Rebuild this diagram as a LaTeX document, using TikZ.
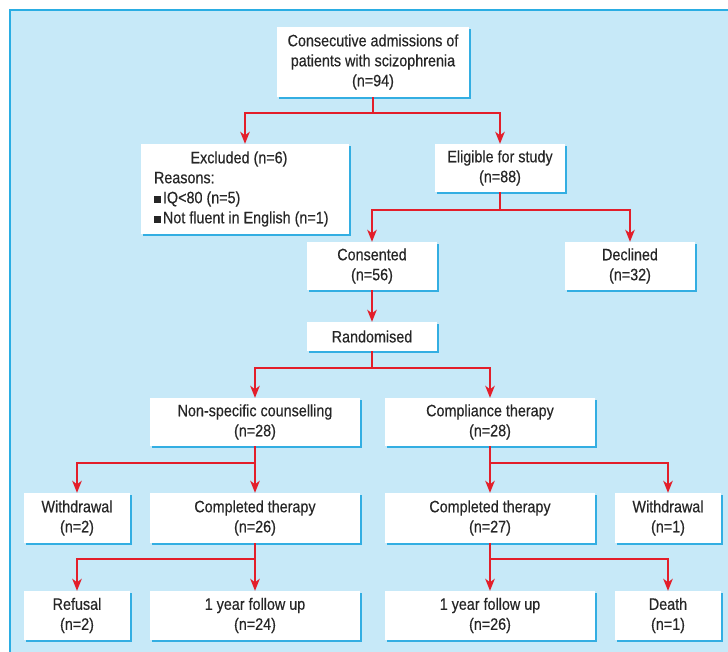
\documentclass[tikz,border=0pt]{standalone}
\usepackage{fontspec}
\setmainfont{Liberation Sans}[FakeStretch=0.87, WordSpace=1.0, FakeBold=0.35]
\usetikzlibrary{arrows.meta,shadows}
\definecolor{bgblue}{HTML}{C7E9F8}
\definecolor{edgeblue}{HTML}{2AADE3}
\definecolor{shadblue}{HTML}{33AEE2}
\definecolor{arrred}{HTML}{E31E2A}
\tikzset{
  box/.style={fill=white, inner sep=0pt, align=center, anchor=center,
    font=\fontsize{16.5}{20}\selectfont, text=black!85,
    drop shadow={shadow xshift=2pt, shadow yshift=-2pt, fill=shadblue, opacity=1}},
  link/.style={draw=arrred, line width=1.6pt},
  arr/.style={link, -{Stealth[length=12pt, width=9.5pt, inset=3.5pt]}}
}
\newcommand{\sqb}{\rule[0.5pt]{6.5pt}{6.5pt}\hspace{2.5pt}}
\begin{document}
\begin{tikzpicture}[x=1pt,y=-1pt]
\clip (0,0) rectangle (728,652);
\useasboundingbox (0,0) rectangle (728,652);
\fill[white] (0,0) rectangle (728,652);
\fill[bgblue] (10,10) rectangle (740,670);
\draw[edgeblue, line width=2pt] (10,670) -- (10,10) -- (740,10);

\node[box, minimum width=192pt, minimum height=70pt] (top) at (373,62)
  {Consecutive admissions of\\ patients with scizophrenia\\ (n=94)};
\node[box, minimum width=208pt, minimum height=90pt, text width=182pt, align=flush left] (excl) at (245,189)
  {\makebox[170pt][c]{Excluded (n=6)}\\ Reasons:\\ \sqb IQ<80 (n=5)\\ \sqb Not fluent in English (n=1)};
\node[box, minimum width=130pt, minimum height=48pt] (elig) at (500,168) {Eligible for study\\ (n=88)};
\node[box, minimum width=130pt, minimum height=48pt] (cons) at (372,266) {Consented\\ (n=56)};
\node[box, minimum width=130pt, minimum height=48pt] (decl) at (630,266) {Declined\\ (n=32)};
\node[box, minimum width=130pt, minimum height=29pt] (rand) at (372,336.5) {Randomised};
\node[box, minimum width=210pt, minimum height=48pt] (nsc) at (255,422) {Non-specific counselling\\ (n=28)};
\node[box, minimum width=210pt, minimum height=48pt] (ct) at (490,422) {Compliance therapy\\ (n=28)};
\node[box, minimum width=106pt, minimum height=50pt] (wd1) at (77,518) {Withdrawal\\ (n=2)};
\node[box, minimum width=210pt, minimum height=50pt] (comp1) at (255,518) {Completed therapy\\ (n=26)};
\node[box, minimum width=210pt, minimum height=50pt] (comp2) at (490,518) {Completed therapy\\ (n=27)};
\node[box, minimum width=106pt, minimum height=50pt] (wd2) at (668,518) {Withdrawal\\ (n=1)};
\node[box, minimum width=106pt, minimum height=49pt] (ref) at (77,615.5) {Refusal\\ (n=2)};
\node[box, minimum width=210pt, minimum height=49pt] (fu1) at (255,615.5) {1 year follow up\\ (n=24)};
\node[box, minimum width=210pt, minimum height=49pt] (fu2) at (490,615.5) {1 year follow up\\ (n=26)};
\node[box, minimum width=106pt, minimum height=49pt] (death) at (668,615.5) {Death\\ (n=1)};

% splits
\coordinate (s1) at (373,113);
\coordinate (s2) at (500,210);
\coordinate (s3) at (372,368);
\coordinate (s4) at (255,463);
\coordinate (s5) at (490,463);
\coordinate (s6) at (255,559);
\coordinate (s7) at (490,559);

\draw[link] (top.south) -- (s1);
\draw[arr] (s1) -| (excl.north);
\draw[arr] (s1) -| (elig.north);
\draw[link] (elig.south) -- (s2);
\draw[arr] (s2) -| (cons.north);
\draw[arr] (s2) -| (decl.north);
\draw[arr] (cons.south) -- (rand.north);
\draw[link] (rand.south) -- (s3);
\draw[arr] (s3) -| (nsc.north);
\draw[arr] (s3) -| (ct.north);
\draw[link] (nsc.south) -- (s4);
\draw[arr] (s4) -| (wd1.north);
\draw[arr] (s4) -- (comp1.north);
\draw[link] (ct.south) -- (s5);
\draw[arr] (s5) -- (comp2.north);
\draw[arr] (s5) -| (wd2.north);
\draw[link] (comp1.south) -- (s6);
\draw[arr] (s6) -| (ref.north);
\draw[arr] (s6) -- (fu1.north);
\draw[link] (comp2.south) -- (s7);
\draw[arr] (s7) -- (fu2.north);
\draw[arr] (s7) -| (death.north);
\end{tikzpicture}
\end{document}
